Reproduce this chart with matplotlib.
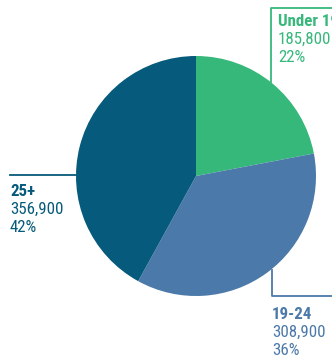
import matplotlib
matplotlib.use("Agg")
import matplotlib.pyplot as plt
from matplotlib import font_manager

categories = ["Under 19", "19-24", "25+"]
counts = [185800, 308900, 356900]
shares = [22, 36, 42]
colors = ["#36b87b", "#4b79a9", "#065a7b"]

names = {f.name for f in font_manager.fontManager.ttflist}
family = [f for f in ("Roboto Condensed", "Barlow Semi Condensed", "Archivo Narrow")
          if f in names][:1] + ["DejaVu Sans"]

W, H = 332, 355
fig = plt.figure(figsize=(W / 100, H / 100), dpi=100)
ax = fig.add_axes([0, 0, 1, 1])

cx, cy, r = 196, 176, 120
ax.pie(shares, colors=colors, startangle=90, counterclock=False,
       center=(cx, -cy), radius=r, frame=True,
       wedgeprops=dict(linewidth=0))
ax.set_xlim(0, W)
ax.set_ylim(-H, 0)
ax.set_aspect("equal")
ax.axis("off")

# leader lines (y in screen pixels, drawn negated)
ax.plot([271, 271, W], [-82, -8, -8], color=colors[0], lw=1.3)
ax.plot([272, 272, W], [-270, -296, -296], color=colors[1], lw=1.3)
ax.plot([10, 78], [-175, -175], color=colors[2], lw=1.3)

def label(x, y, idx):
    c = colors[idx]
    kw = dict(color=c, fontsize=12.2, family=family, va="top", ha="left")
    ax.text(x, -y, categories[idx], fontweight="bold", **kw)
    ax.text(x, -y - 18, f"{counts[idx]:,}", **kw)
    ax.text(x, -y - 36, f"{shares[idx]}%", **kw)

label(278, 14, 0)
label(272, 307, 1)
label(10, 184, 2)

fig.savefig("out.png", dpi=100)
